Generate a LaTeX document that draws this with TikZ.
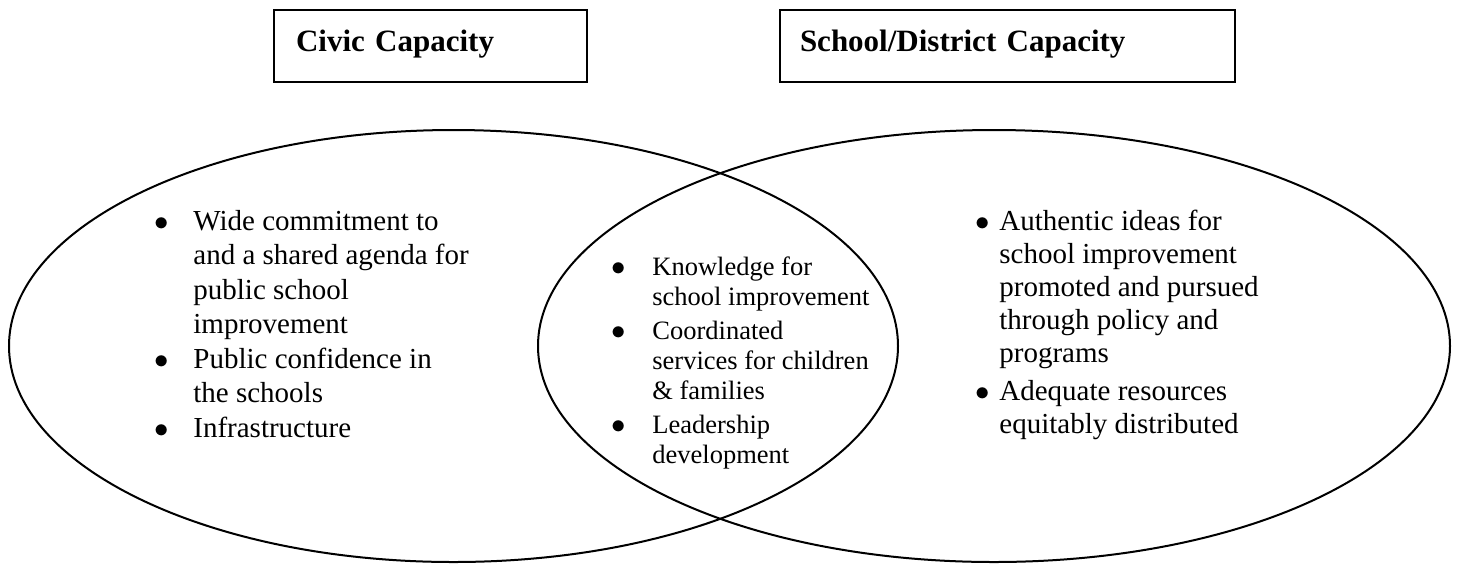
\documentclass[tikz,border=0pt]{standalone}
\usepackage{fontspec}
\setmainfont{Liberation Serif}
\usepackage{tikz}
\newcommand{\Bul}[1]{\makebox[#1]{$\bullet$}}
\tikzstyle{Box}=[draw,line width=1pt,rectangle,anchor=north west,inner sep=0pt,
minimum height=36pt,text height=8pt,text depth=3pt,align=left,
font=\fontsize{15.5}{18}\selectfont\bfseries]
\tikzstyle{Item}=[anchor=base west,inner sep=0pt]
\tikzstyle{Ring}=[draw,line width=1pt]

\begin{document}
\begin{tikzpicture}[x=0.5pt,y=-0.5pt]
    \useasboundingbox (0,0) rectangle (1457,564);
    \node[Box,inner xsep=11pt,text width=134.5pt](civic)at(273,9){Civic Capacity};
    \node[Box,inner xsep=10pt,text width=207.5pt](school)at(779,9){School/District Capacity};
    \coordinate(cc)at(453.5,346);
    \coordinate(sc)at(994,346);
    \draw[Ring](cc)ellipse[x radius=444.5,y radius=216];
    \draw[Ring](sc)ellipse[x radius=456,y radius=216];
    \node[Item,font=\fontsize{14.5}{17.25}\selectfont](civicl)at(129,230){%
        \begin{tabular}[t]{@{}l@{}l@{}}
        \Bul{32pt}&Wide commitment to\\
        &and a shared agenda for\\
        &public school\\
        &improvement\\
        \Bul{32pt}&Public confidence in\\
        &the schools\\
        \Bul{32pt}&Infrastructure
        \end{tabular}};
    \node[Item,font=\fontsize{13.25}{15}\selectfont](bothl)at(584,275){%
        \begin{tabular}[t]{@{}l@{}l@{}}
        \Bul{34pt}&Knowledge for\\
        &school improvement\\[2pt]
        \Bul{34pt}&Coordinated\\
        &services for children\\
        &\& families\\[2pt]
        \Bul{34pt}&Leadership\\
        &development
        \end{tabular}};
    \node[Item,font=\fontsize{14.5}{16.6}\selectfont](schooll)at(965,230){%
        \begin{tabular}[t]{@{}l@{}l@{}}
        \Bul{17pt}&Authentic ideas for\\
        &school improvement\\
        &promoted and pursued\\
        &through policy and\\
        &programs\\[2pt]
        \Bul{17pt}&Adequate resources\\
        &equitably distributed
        \end{tabular}};
\end{tikzpicture}
\end{document}
